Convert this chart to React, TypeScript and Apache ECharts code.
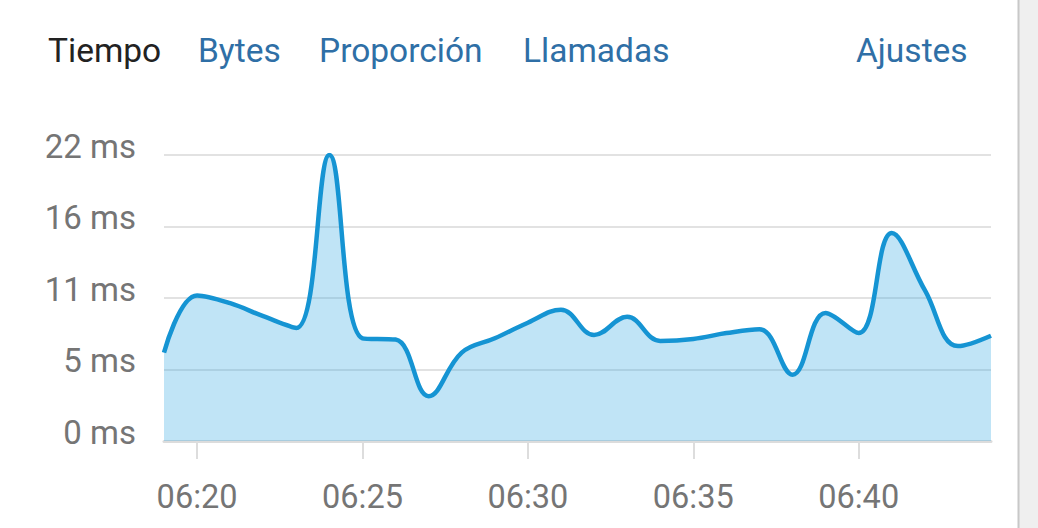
import React, { useEffect, useRef } from "react";
import * as echarts from "echarts";

const tabs = ["Tiempo", "Bytes", "Proporción", "Llamadas", "Ajustes"];
const categories = [
  "06:19", "06:20", "06:21", "06:22", "06:23", "06:24", "06:25", "06:26", "06:27",
  "06:28", "06:29", "06:30", "06:31", "06:32", "06:33", "06:34", "06:35", "06:36",
  "06:37", "06:38", "06:39", "06:40", "06:41", "06:42", "06:43", "06:44",
];
const timeMs = [
  6.8, 11.2, 10.6, 9.6, 8.7, 22.0, 7.9, 7.8, 3.45, 6.8, 7.9, 9.1, 10.1,
  8.15, 9.55, 7.7, 7.85, 8.3, 8.6, 5.1, 9.85, 8.3, 16.0, 11.6, 7.3, 8.1,
];
const yTicks = [0, 5.5, 11, 16.5, 22];

export default function App() {
  const ref = useRef<HTMLDivElement>(null);
  useEffect(() => {
    document.body.style.margin = "0";
    const chart = echarts.init(ref.current!, undefined, { renderer: "svg" });
    const tabX = [48, 198, 319, 523, 856];
    chart.setOption({
      animation: false,
      backgroundColor: "#ffffff",
      grid: { left: 164, right: 47, top: 155, bottom: 87 },
      graphic: [
        ...tabs.map((t, i) => ({
          type: "text",
          left: tabX[i],
          top: 33,
          style: {
            text: t,
            font: "33.5px Roboto",
            fill: i === 0 ? "#222222" : "#2f6fa6",
          },
        })),
        { type: "rect", shape: { x: 1018, y: 0, width: 20, height: 528 }, style: { fill: "#efefef" } },
        { type: "line", shape: { x1: 1018.5, y1: 0, x2: 1018.5, y2: 528 }, style: { stroke: "#c8c8c8", lineWidth: 2 } },
      ],
      xAxis: {
        type: "category",
        data: categories,
        boundaryGap: false,
        axisLine: { show: true, lineStyle: { color: "#dcdcdc", width: 3 } },
        axisTick: {
          show: true,
          length: 18,
          interval: (idx: number) => parseInt(categories[idx].slice(3), 10) % 5 === 0,
          lineStyle: { color: "#dddddd", width: 2 },
        },
        axisLabel: {
          interval: (idx: number) => parseInt(categories[idx].slice(3), 10) % 5 === 0,
          color: "#757575",
          fontFamily: "Roboto",
          fontSize: 32.5,
          margin: 39,
        },
        splitLine: { show: false },
      },
      yAxis: {
        type: "value",
        min: yTicks[0],
        max: yTicks[yTicks.length - 1],
        interval: yTicks[1] - yTicks[0],
        axisLine: { show: false },
        axisTick: { show: false },
        axisLabel: {
          color: "#757575",
          fontFamily: "Roboto",
          fontSize: 33,
          margin: 28,
          verticalAlign: "bottom",
          lineHeight: 18,
          formatter: (v: number) => Math.floor(v) + " ms",
        },
        splitLine: { show: true, lineStyle: { color: "#e2e2e2", width: 2 } },
      },
      series: [
        {
          type: "line",
          data: timeMs,
          smooth: 0.4,
          showSymbol: false,
          lineStyle: { color: "#1594d3", width: 4.5 },
          areaStyle: { color: "rgba(58,171,227,0.32)", opacity: 1 },
        },
      ],
    });
    return () => chart.dispose();
  }, []);
  return (
    <div
      ref={ref}
      style={{ position: "fixed", left: 0, top: 0, width: 1038, height: 528 }}
    />
  );
}
